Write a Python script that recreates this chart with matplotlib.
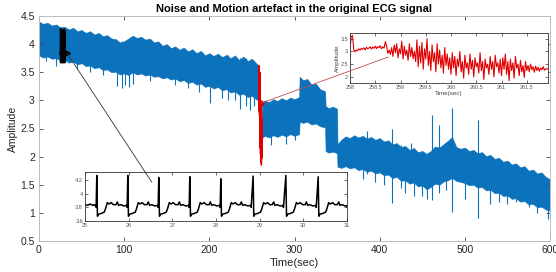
import numpy as np
import matplotlib
matplotlib.use("Agg")
import matplotlib.pyplot as plt
from matplotlib.patches import ConnectionPatch

plt.rcParams['font.family'] = ['Liberation Sans', 'DejaVu Sans']

# ---------------- data ----------------
# main recording, first part (before the motion artefact): envelope of the blue band
env1_t = [0, 5, 10, 15, 20, 25, 30, 35, 40, 45, 50, 55, 60, 65, 70, 75, 80, 85, 90, 95,
          100, 105, 110, 115, 120, 125, 130, 135, 140, 145, 150, 155, 160, 165, 170, 175,
          180, 185, 190, 195, 200, 205, 210, 215, 220, 225, 230, 235, 240, 245, 250, 255, 258]
env1_top = [4.40, 4.36, 4.38, 4.33, 4.35, 4.30, 4.31, 4.26, 4.29, 4.23, 4.25, 4.20, 4.23,
            4.17, 4.20, 4.14, 4.16, 4.10, 4.09, 4.03, 4.05, 4.10, 4.15, 4.11, 4.13, 4.08,
            4.10, 4.03, 4.05, 3.97, 4.00, 3.93, 3.96, 3.90, 3.94, 3.87, 3.91, 3.84, 3.88,
            3.80, 3.84, 3.79, 3.83, 3.77, 3.81, 3.75, 3.80, 3.72, 3.78, 3.70, 3.74, 3.66, 3.62]
env1_bot = [3.80, 3.76, 3.78, 3.74, 3.75, 3.71, 3.72, 3.67, 3.69, 3.64, 3.66, 3.61, 3.62,
            3.57, 3.59, 3.54, 3.55, 3.50, 3.51, 3.46, 3.48, 3.45, 3.50, 3.46, 3.48, 3.44,
            3.46, 3.42, 3.43, 3.39, 3.41, 3.37, 3.39, 3.34, 3.36, 3.31, 3.33, 3.28, 3.30,
            3.24, 3.26, 3.21, 3.24, 3.18, 3.20, 3.14, 3.16, 3.10, 3.12, 3.06, 3.08, 3.02, 3.00]

# main recording, second part (after the artefact)
env2_t = [261.9, 265, 270, 275, 280, 285, 290, 295, 300, 305.5,
          306, 310, 315, 320, 325, 330, 336,
          336.5, 340, 345, 350,
          350.5, 355, 360, 365, 370, 375, 380, 385, 390, 395, 400, 405, 410, 415, 420, 425,
          430, 435, 440, 445, 450, 455, 460, 465, 470, 475, 480, 485, 490, 495, 500, 505,
          510, 515, 520, 525, 530, 535, 540, 545, 550, 555, 560, 565, 570, 575, 580, 585,
          590, 595, 600]
env2_top = [2.96, 3.00, 2.97, 3.02, 2.99, 3.04, 3.00, 3.05, 3.02, 3.06,
            3.42, 3.36, 3.38, 3.28, 3.30, 3.20, 3.16,
            2.90, 2.86, 2.89, 2.85,
            2.22, 2.30, 2.36, 2.33, 2.38, 2.34, 2.37, 2.32, 2.35, 2.30, 2.33, 2.27, 2.29,
            2.22, 2.24, 2.17, 2.19, 2.12, 2.15, 2.08, 2.10, 2.05, 2.10, 2.18, 2.16, 2.22,
            2.28, 2.35, 2.17, 2.14, 2.16, 2.10, 2.12, 2.06, 2.08, 2.01, 2.03, 1.96, 1.98,
            1.91, 1.93, 1.86, 1.88, 1.81, 1.83, 1.75, 1.77, 1.70, 1.72, 1.64, 1.60]
env2_bot = [2.33, 2.37, 2.34, 2.38, 2.35, 2.39, 2.36, 2.40, 2.37, 2.40,
            2.62, 2.60, 2.62, 2.57, 2.59, 2.54, 2.52,
            2.10, 2.07, 2.09, 2.06,
            1.82, 1.80, 1.83, 1.79, 1.81, 1.76, 1.78, 1.73, 1.75, 1.70, 1.72, 1.67, 1.68,
            1.62, 1.64, 1.57, 1.58, 1.52, 1.54, 1.47, 1.49, 1.42, 1.46, 1.52, 1.50, 1.56,
            1.58, 1.62, 1.57, 1.55, 1.53, 1.49, 1.50, 1.45, 1.46, 1.40, 1.41, 1.35, 1.36,
            1.30, 1.31, 1.25, 1.26, 1.20, 1.21, 1.15, 1.16, 1.10, 1.11, 1.06, 1.04]

# isolated spikes in the main recording
spike_t = [8, 20, 45, 60, 75, 92, 97, 101, 106, 110, 130, 160, 175, 188, 201, 215, 222,
           230, 236, 243, 248, 253, 272, 290, 300, 380, 385, 395, 405, 415, 425, 430, 437,
           440, 450, 455, 462, 470, 478, 485, 500, 516, 530, 540, 550, 560, 575, 585, 598]
spike_lo = [3.70, 3.62, 3.55, 3.50, 3.45, 3.25, 3.22, 3.28, 3.23, 3.30, 3.35, 3.28, 3.22,
            3.15, 2.95, 3.05, 3.00, 3.00, 2.85, 2.90, 2.83, 2.90, 2.20, 2.22, 2.30, 1.60,
            1.70, 1.55, 1.50, 1.17, 1.45, 1.35, 1.55, 1.30, 1.30, 1.25, 1.23, 1.35, 1.40,
            1.02, 1.25, 0.91, 1.15, 1.20, 1.15, 1.20, 1.10, 1.00, 0.90]
spike_hi = [4.30, 4.25, 4.20, 4.15, 4.10, 4.05, 4.05, 4.05, 4.08, 4.10, 4.05, 3.90, 3.85,
            3.80, 3.80, 3.75, 3.80, 3.75, 3.75, 3.75, 3.70, 3.70, 2.95, 3.00, 3.00, 2.30,
            2.45, 2.25, 2.25, 2.50, 2.20, 2.15, 2.25, 2.15, 2.05, 2.05, 2.74, 2.56, 2.25,
            2.86, 2.10, 2.65, 1.98, 1.95, 1.90, 1.80, 1.72, 1.70, 1.58]

# zoomed normal ECG (25-31 s)
beat_times = [25.27, 25.98, 26.69, 27.40, 28.11, 28.85, 29.60, 30.34]
r_heights = [4.27, 4.27, 4.24, 4.25, 4.22, 4.26, 4.27, 4.25]
beat_offsets = [0.0, 0.015, 0.04, 0.10, 0.17, 0.20, 0.24, 0.28, 0.33, 0.38, 0.44, 0.47,
                0.50, 0.55, 0.62, 0.68, 0.695]
beat_values = [None, 3.67, 3.70, 3.71, 3.73, 3.78, 3.87, 3.85, 3.87, 3.84, 3.84, 3.88,
               3.83, 3.84, 3.82, 3.83, 3.80]
lead_t = [25.00, 25.06, 25.12, 25.18, 25.22, 25.255]
lead_v = [3.84, 3.83, 3.85, 3.83, 3.84, 3.80]

# zoomed motion artefact (258-261.9 s), sampled every 0.025 s
art_start = 258.0
art_dt = 0.025
art_values = [
    3.10, 3.58, 3.62, 3.05, 2.98, 3.06, 3.02, 3.10, 3.05, 3.12, 3.08, 3.14, 3.06, 3.16, 3.10,
    3.13, 3.18, 3.09, 3.17, 3.12, 3.20, 3.11, 3.19, 3.14, 3.22, 3.10, 3.18, 3.13, 3.38, 3.20,
    2.92, 3.05, 2.88, 3.15, 2.80, 3.25, 2.95, 3.30, 2.75, 3.10, 2.90, 3.40, 2.70, 3.20, 2.85,
    3.05, 2.65, 3.30, 2.80, 3.15, 2.72, 3.00,
    2.60, 3.45, 2.40, 3.20, 2.55, 3.35, 2.30, 3.10, 2.70, 3.50, 2.45, 3.00, 2.25, 3.25, 2.60,
    2.95, 2.20, 3.30, 2.50, 3.05, 2.35, 2.85, 2.15, 3.15, 2.45, 2.90, 2.30, 2.75,
    2.10, 2.95, 2.35, 2.80, 2.05, 2.70, 2.40, 3.00, 2.20, 2.60, 1.95, 2.85, 2.35, 2.55, 2.10,
    2.90, 2.30, 2.65, 2.00, 2.75, 2.40, 2.55, 2.15, 2.95, 2.25, 2.60, 1.90, 2.70, 2.35, 2.50,
    2.10, 2.80, 2.30, 2.60, 2.00, 2.85, 2.40, 2.55, 2.15, 2.70,
    2.05, 2.75, 2.30, 2.90, 2.10, 2.60, 1.85, 2.70, 2.25, 2.55, 1.95, 2.80, 2.35, 2.50, 2.05,
    2.65, 2.20, 2.45, 1.98, 2.60,
    2.25, 2.45, 2.20, 2.50, 2.28, 2.40, 2.18, 2.42, 2.25, 2.38, 2.22, 2.35, 2.28, 2.40, 2.26,
    2.32, 2.30, 2.33]

main_xticks = [0, 100, 200, 300, 400, 500, 600]
main_yticks = [0.5, 1, 1.5, 2, 2.5, 3, 3.5, 4, 4.5]
ecg_xticks = [25, 26, 27, 28, 29, 30, 31]
ecg_yticks = [3.6, 3.8, 4, 4.2]
art_xticks = [258, 258.5, 259, 259.5, 260, 260.5, 261, 261.5]
art_yticks = [2, 2.5, 3, 3.5]

# ---------------- build traces ----------------
ecg_t = list(lead_t)
ecg_v = list(lead_v)
for bt, rh in zip(beat_times, r_heights):
    for off, val in zip(beat_offsets, beat_values):
        ecg_t.append(bt + off)
        ecg_v.append(rh if val is None else val)
ecg_t.append(31.0)
ecg_v.append(3.81)
art_t = art_start + art_dt * np.arange(len(art_values))

BLUE = '#0b72bb'
RED = '#e00000'

fig = plt.figure(figsize=(5.56, 2.72), dpi=100)
ax = fig.add_axes([39/556, 1-241/272, 511/556, 225/272])

ax.fill_between(env1_t, env1_bot, env1_top, color=BLUE, lw=0.4, ec=BLUE)
ax.fill_between(env2_t, env2_bot, env2_top, color=BLUE, lw=0.4, ec=BLUE)
ax.vlines(spike_t, spike_lo, spike_hi, color=BLUE, lw=0.8)
ax.plot(ecg_t, ecg_v, color='black', lw=1.0)
ax.plot(art_t, art_values, color=RED, lw=1.0)

ax.set_xlim(0, 600)
ax.set_ylim(0.5, 4.5)
ax.set_xticks(main_xticks)
ax.set_yticks(main_yticks)
ax.set_yticklabels([f'{v:g}' for v in main_yticks])
ax.tick_params(direction='in', length=3, width=0.6, top=True, right=True,
               labelsize=7.5, colors='#444444', labelcolor='#262626', pad=3)
for s in ax.spines.values():
    s.set_color('#bbbbbb')
    s.set_linewidth(0.7)
ax.set_xlabel('Time(sec)', fontsize=8, color='#222222', labelpad=2)
ax.set_ylabel('Amplitude', fontsize=7.5, color='#222222', labelpad=2)
ax.set_title('Noise and Motion artefact in the original ECG signal', fontsize=8,
             fontweight='bold', pad=3)

# markers on the main plot
ax.plot([32.9], [3.84], marker='>', color='black', ms=5, zorder=5)
ax.plot([260.6], [2.95], marker='o', color=RED, ms=3, zorder=5)

# inset: normal ECG
ax1 = fig.add_axes([85/556, 1-221/272, 262/556, 49/272])
ax1.plot(ecg_t, ecg_v, color='black', lw=1.1)
ax1.set_xlim(25, 31)
ax1.set_ylim(3.6, 4.32)
ax1.set_xticks(ecg_xticks)
ax1.set_yticks(ecg_yticks)
ax1.set_yticklabels(['3.6', '3.8', '4', '4.2'])
ax1.tick_params(direction='in', length=2, width=0.4, top=True, right=True,
                labelsize=4, pad=1.5, labelcolor='#555555')
for s in ax1.spines.values():
    s.set_linewidth(0.6)
    s.set_color('#333333')

# inset: motion artefact
ax2 = fig.add_axes([350/556, 1-83/272, 198/556, 50/272])
ax2.plot(art_t, art_values, color=RED, lw=0.8)
ax2.set_xlim(258, 261.92)
ax2.set_ylim(1.76, 3.72)
ax2.set_xticks(art_xticks)
ax2.set_xticklabels([f'{v:g}' for v in art_xticks])
ax2.set_yticks(art_yticks)
ax2.set_yticklabels([f'{v:g}' for v in art_yticks])
ax2.tick_params(direction='in', length=2, width=0.4, top=True, right=True,
                labelsize=4, pad=1.5, labelcolor='#555555')
for s in ax2.spines.values():
    s.set_linewidth(0.6)
    s.set_color('#333333')
ax2.set_xlabel('Time(sec)', fontsize=4.5, labelpad=0.5, color='#444444')
ax2.set_ylabel('Amplitude', fontsize=4.5, labelpad=0.5, color='#444444')

# connectors
con1 = ConnectionPatch(xyA=(32.9, 3.84), coordsA=ax.transData,
                       xyB=(26.53, 4.17), coordsB=ax1.transData,
                       color='#333333', lw=0.6, zorder=10)
fig.add_artist(con1)
con2 = ConnectionPatch(xyA=(260.6, 2.95), coordsA=ax.transData,
                       xyB=(258.76, 2.78), coordsB=ax2.transData,
                       color='#c05050', lw=0.6, zorder=10)
fig.add_artist(con2)

fig.savefig('out.png', dpi=100)
